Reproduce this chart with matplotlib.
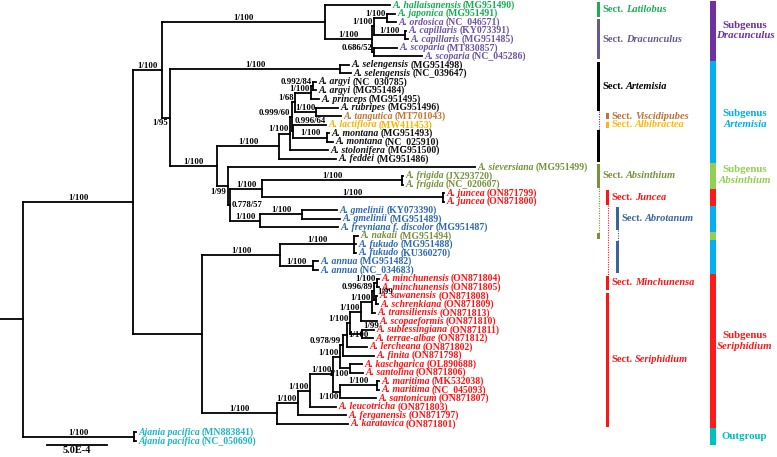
import matplotlib.pyplot as plt
from matplotlib.patches import Rectangle
from matplotlib.transforms import blended_transform_factory

plt.rcParams['font.family'] = ['Liberation Serif', 'DejaVu Serif']
plt.rcParams['font.weight'] = 'bold'

# ---- tips (index = position from the top) ----
tip_names = ["A. hallaisanensis", "A. japonica", "A. ordosica", "A. capillaris", "A. capillaris",
             "A. scoparia", "A. scoparia", "A. selengensis", "A. selengensis", "A. argyi", "A. argyi",
             "A. princeps", "A. rubripes", "A. tangutica", "A. lactiflora", "A. montana", "A. montana",
             "A. stolonifera", "A. feddei", "A. sieversiana", "A. frigida", "A. frigida", "A. juncea",
             "A. juncea", "A. gmelinii", "A. gmelinii", "A. freyniana f. discolor", "A. nakaii",
             "A. fukudo", "A. fukudo", "A. annua", "A. annua", "A. minchunensis", "A. minchunensis",
             "A. sawanensis", "A. schrenkiana", "A. transiliensis", "A. scopaeformis",
             "A. sublessingiana", "A. terrae-albae", "A. lercheana", "A. finita", "A. kaschgarica",
             "A. santolina", "A. maritima", "A. maritima", "A. santonicum", "A. leucotricha",
             "A. ferganensis", "A. karatavica", "Ajania pacifica", "Ajania pacifica"]
tip_acc = ["MG951490", "MG951491", "NC_046571", "KY073391", "MG951485", "MT830857", "NC_045286",
           "MG951498", "NC_039647", "NC_030785", "MG951484", "MG951495", "MG951496", "MT701043",
           "MW411453", "MG951493", "NC_025910", "MG951500", "MG951486", "MG951499", "JX293720",
           "NC_020607", "ON871799", "ON871800", "KY073390", "MG951489", "MG951487", "MG951494",
           "MG951488", "KU360270", "MG951482", "NC_034683", "ON871804", "ON871805", "ON871808",
           "ON871809", "ON871813", "ON871810", "ON871811", "ON871812", "ON871802", "ON871798",
           "OL890688", "ON871806", "MK532038", "NC_045093", "ON871807", "ON871803", "ON871797",
           "ON871801", "MN883841", "NC_050690"]
tip_group = (['lat'] * 2 + ['dra'] * 5 + ['art'] * 6 + ['vis', 'alb'] + ['art'] * 4 + ['abs'] * 3
             + ['jun'] * 2 + ['abr'] * 3 + ['abs'] + ['abr'] * 4 + ['ser'] * 18 + ['out'] * 2)
group_colors = {'lat': '#14AE50', 'dra': '#6C56A2', 'art': '#111111', 'vis': '#C8742F',
                'alb': '#F7B500', 'abs': '#76923C', 'jun': '#FF1414', 'abr': '#2F6AB0',
                'ser': '#FF1414', 'out': '#1CB6C2'}

# ---- clades (Newick; branch lengths in 1e-4 subst./site; label "PP/BS@placement") ----
drac = ("(0:5.42,(((1:0.67,2:0.75)1/100@r:1.08,(3:0.08,4:0.25)1/100@c:2.58)1/100@r:0.17,"
        "(5:1.92,6:4.0)0.686/52@r:0.17)1/100@c:3.92)1/100@c:13.58")
arte = ("((((9:0.25,10:0.25)0.992/84@r:0.17,11:0.67)1/100@r:1.33,(12:1.83,13:2.08)1/100@c:1.75)1/68@r:0.25,"
        "(14:2.75,(15:0.17,16:0.5)1/100@c:2.83)0.996/64@k:0.08)0.999/60@r:0.17")
arte = "((" + arte + ",17:3.17)1/100@r:0.92,18:4.75)1/100@c:5.17"
absi = ("(19:20.58,(((20:0.08,21:0.08)1/100@c:11.67,(22:0.08,23:0.08)1/100@c:15.08)1/100@c:2.67,"
        "((24:2.92,25:3.17)1/100@c:3.5,26:6.5)1/100@c:2.5)0.778/57@n:0.17)1/99@rb:0.92")
upper = "(" + drac + ",((7:0.75,8:0.92)1/100@c:14.17,(" + arte + "," + absi + ")1/100@c:3.92)1/95@rb:0.67)1/100@c:2.42"
annua = "((27:0.33,28:0.17,29:0.17)1/100@c:6.17,(30:0.42,31:0.42)1/100@c:2.75)1/100@c:6.5"
seri = ("((((32:0.17,33:0.17)1/100@r:0.25,(34:0.08,35:0.17)1/99@k:0.17)0.996/89@r:0.17,36:0.25)1/100@r:0.92,"
        "37:1.33)1/100@r:0.92")
seri = "(((" + seri + ",(38:1.0,39:0.92)1/99@k:1.0)1/100@r:0.25,40:1.67)1/100@n:0.33,41:2.58)0.978/99@r:0.25"
seri = ("(((((" + seri + ",(42:1.0,43:1.08)1/100@rb:0.83)1/100@r:0.58,((44:0.17,45:0.17)1/100@c:3.08,"
        "46:3.0)1/100@rb:0.58)1/100@r:1.92,47:2.17)1/100@r:1.0,48:4.0)1/100@r:1.75,49:5.92)1/100@c:6.25")
tree_newick = "((" + upper + ",(" + annua + "," + seri + "):5.75)1/100@c:9.17,(50:0.17,51:0.17)1/100@c:9.25);"

# ---- right-hand annotation ----
sect_names = ['Latilobus', 'Dracunculus', 'Artemisia', 'Viscidipubes', 'Albibractea', 'Absinthium',
              'Juncea', 'Abrotanum', 'Minchunensa', 'Seriphidium']
sect_spans = [[(0, 1)], [(2, 6)], [(7, 12), (15, 18)], [(13, 13)], [(14, 14)], [(19, 21), (27, 27)],
              [(22, 23)], [(24, 26), (28, 31)], [(32, 33)], [(34, 49)]]
sect_col = [0, 0, 0, 1, 1, 0, 1, 2, 1, 1]
sect_colors = ['#1BAF55', '#675A8C', '#000000', '#BF7234', '#FFB80A', '#76923C', '#FF1414',
               '#3B6497', '#FF1414', '#FF1414']
links = [(0, 12, 15, '#444444'), (0, 21, 27, '#76923C'), (1, 23, 32, '#FF1414'), (2, 26, 28, '#3B6497')]

subg_names = ['Dracunculus', 'Artemisia', 'Absinthium', 'Seriphidium', 'Outgroup']
subg_colors = ['#7030A0', '#00B0F0', '#92D050', '#FF1A1A', '#00BFBF']
subg_segments = [(0, 6, 0), (7, 18, 1), (19, 21, 2), (22, 23, 3), (24, 26, 1), (27, 27, 2),
                 (28, 31, 1), (32, 49, 3), (50, 51, 4)]
subg_label_tip = [3.0, 13.3, 19.9, 39.3, 50.5]

# ---- figure ----
W, H = 777, 457
PX = 12.0          # pixels per 1e-4
ROOT_PX = 23
fig = plt.figure(figsize=(W / 100, H / 100), dpi=100)
ax = fig.add_axes([0, 0, 1, 1])
ax.axis('off')
ax.set_xlim(-ROOT_PX / PX, (W - ROOT_PX) / PX)
ax.set_ylim((H - 5) / 8.55, -5 / 8.55)
bt = blended_transform_factory(ax.transAxes, ax.transData)
LW = 1.3


def parse(s):
    i = 0

    def read():
        nonlocal i
        kids = []
        if s[i] == '(':
            i += 1
            kids.append(read())
            while s[i] == ',':
                i += 1
                kids.append(read())
            i += 1
        j = i
        while s[i] not in ',);':
            i += 1
        lab, _, ln = s[j:i].partition(':')
        return {'kids': kids, 'label': lab, 'len': float(ln) if ln else 0.0}
    return read()


def layout(n, x0):
    n['x'] = x0 + n['len']
    if n['kids']:
        for k in n['kids']:
            layout(k, n['x'])
        n['y'] = (n['kids'][0]['y'] + n['kids'][-1]['y']) / 2
    else:
        n['y'] = float(int(n['label']))


def draw(n, px):
    if px is not None:
        ax.plot([px, n['x']], [n['y'], n['y']], color='k', lw=LW, solid_capstyle='projecting')
    if not n['kids']:
        t = int(n['label'])
        c = group_colors[tip_group[t]]
        nm = ax.annotate(tip_names[t], (n['x'], n['y']), xytext=(1.5, 0), textcoords='offset points',
                         ha='left', va='center', fontsize=7, style='italic', color=c)
        ax.annotate('(' + tip_acc[t] + ')', (1, 0.5), xycoords=nm, xytext=(1.5, 0),
                    textcoords='offset points', ha='left', va='center', fontsize=7, color=c)
        return
    ks = n['kids']
    ax.plot([n['x'], n['x']], [ks[0]['y'], ks[-1]['y']], color='k', lw=LW, solid_capstyle='projecting')
    for k in ks:
        draw(k, n['x'])
    lab, _, mode = n['label'].partition('@')
    if not lab or px is None:
        return
    kw = dict(textcoords='offset points', fontsize=6.3, color='k')
    if mode == 'c':
        ax.annotate(lab, ((px + n['x']) / 2, n['y']), xytext=(0, 1.5), ha='center', va='baseline', **kw)
    elif mode == 'r':
        ax.annotate(lab, (n['x'], n['y']), xytext=(-1.2, 1.5), ha='right', va='baseline', **kw)
    elif mode == 'rb':
        ax.annotate(lab, (n['x'], n['y']), xytext=(-1.2, -1.0), ha='right', va='top', **kw)
    elif mode == 'n':
        ax.annotate(lab, (n['x'], n['y']), xytext=(1.2, 0), ha='left', va='center', **kw)
    elif mode == 'k':
        ax.annotate(lab, (n['x'], ks[0]['y']), xytext=(1.0, 1.5), ha='left', va='baseline', **kw)


root = parse(tree_newick)
layout(root, 0.0)
draw(root, None)
ax.plot([-ROOT_PX / PX, 0], [root['y'], root['y']], color='k', lw=LW)

# scale bar
ax.plot([2.0, 7.0], [51.5, 51.5], color='k', lw=LW)
ax.text(4.5, 52.15, '5.0E-4', ha='center', va='center', fontsize=7.5)

# section bars
col_px = [597, 606, 616]
pad = 0.35
for name, spans, col, c in zip(sect_names, sect_spans, sect_col, sect_colors):
    for a, b in spans:
        ax.add_patch(Rectangle((col_px[col] / W, a - pad), 3 / W, b - a + 2 * pad,
                               transform=bt, color=c, lw=0))
    a, b = spans[0]
    s = ax.text((col_px[col] + 5) / W, (a + b) / 2, 'Sect.', transform=bt, ha='left',
                va='center', fontsize=7.5, color=c)
    ax.annotate(name, (1, 0.5), xycoords=s, xytext=(2, 0), textcoords='offset points',
                ha='left', va='center', fontsize=7.5, style='italic', color=c)
for col, a, b, c in links:
    x = (col_px[col] + 1.5) / W
    ax.plot([x, x], [a + pad, b - pad], transform=bt, color=c, lw=0.8, ls=(0, (1, 1.2)))

# subgenus bars
for a, b, k in subg_segments:
    ax.add_patch(Rectangle((710 / W, a - 0.5), 6 / W, b - a + 1, transform=bt,
                           color=subg_colors[k], lw=0))
for k, (name, c) in enumerate(zip(subg_names, subg_colors)):
    y = subg_label_tip[k]
    if name == 'Outgroup':
        ax.text(722 / W, y, name, transform=bt, ha='left', va='center', fontsize=7.8, color=c)
        continue
    ax.text(745 / W, y - 0.62, 'Subgenus', transform=bt, ha='center', va='center', fontsize=7.8, color=c)
    ax.text(745 / W, y + 0.62, name, transform=bt, ha='center', va='center', fontsize=7.8,
            style='italic', color=c)

fig.savefig('out.png', dpi=100)
